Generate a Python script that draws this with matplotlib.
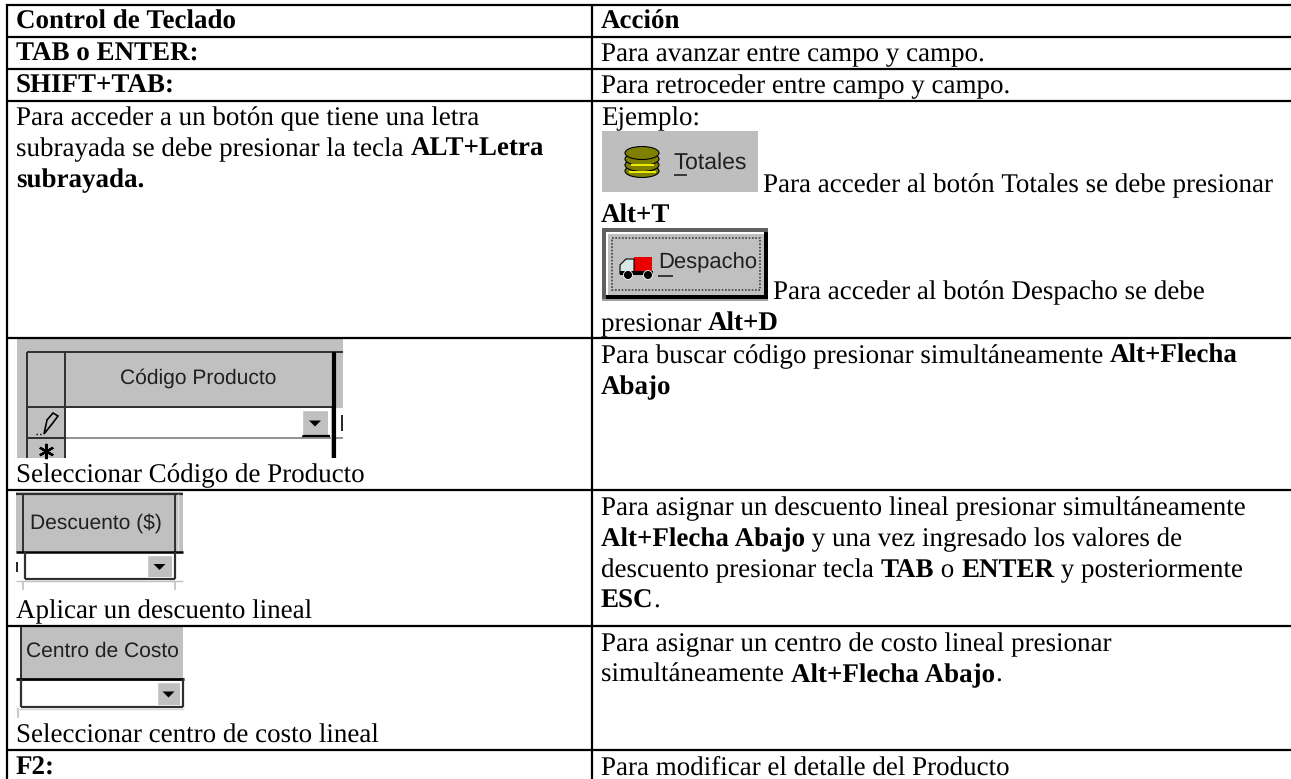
import matplotlib
matplotlib.use("Agg")
import matplotlib.pyplot as plt
from matplotlib.patches import Rectangle, Ellipse, Polygon

# table text, *...* marks the bold runs
header_left = "*Control de Teclado*"
header_right = "*Acción*"
simple_left = ["*TAB o ENTER:*", "*SHIFT+TAB:*"]
simple_right = ["Para avanzar entre campo y campo.", "Para retroceder entre campo y campo."]
letra_left = [
    "Para acceder a un botón que tiene una letra",
    "subrayada se debe presionar la tecla *ALT+Letra*",
    "*subrayada.*",
]
ejemplo = "Ejemplo:"
totales_lines = ["Para acceder al botón Totales se debe presionar", "*Alt+T*"]
despacho_lines = ["Para acceder al botón Despacho se debe", "presionar *Alt+D*"]
codigo_caption = "Seleccionar Código de Producto"
codigo_right = [
    "Para buscar código presionar simultáneamente *Alt+Flecha*",
    "*Abajo*",
]
descuento_caption = "Aplicar un descuento lineal"
descuento_right = [
    "Para asignar un descuento lineal presionar simultáneamente",
    "*Alt+Flecha Abajo* y una vez ingresado los valores de",
    "descuento presionar tecla *TAB* o *ENTER* y posteriormente",
    "*ESC*.",
]
centro_caption = "Seleccionar centro de costo lineal"
centro_right = [
    "Para asignar un centro de costo lineal presionar",
    "simultáneamente *Alt+Flecha Abajo*.",
]
f2_left = "*F2:*"
f2_right = "Para modificar el detalle del Producto"
button_labels = ["Totales", "Despacho", "Código Producto", "Descuento ($)", "Centro de Costo"]

W, H = 1291, 779
GRAY = "#c0c0c0"
DARK = "#303030"
SERIF = "Liberation Serif"
SANS = "Liberation Sans"
SIZE = 19.1
PITCH = 31

# no hinting so the text widths scale with the size
plt.rcParams["text.hinting"] = "no_hinting"
plt.rcParams["text.hinting_factor"] = 1

fig = plt.figure(figsize=(W / 100, H / 100), dpi=100)
ax = fig.add_axes([0, 0, 1, 1])
ax.set_xlim(0, W)
ax.set_ylim(H, 0)
ax.axis("off")
renderer = fig.canvas.get_renderer()


def text_width(s, weight):
    # the bar keeps trailing spaces in the measure
    a = ax.text(0, 0, s + "|", family=SERIF, size=SIZE, weight=weight)
    b = ax.text(0, 0, "|", family=SERIF, size=SIZE, weight=weight)
    w = a.get_window_extent(renderer).width - b.get_window_extent(renderer).width
    a.remove()
    b.remove()
    return w


def draw_line(x, y, s):
    parts = s.split("*")
    for i, part in enumerate(parts):
        if part == "":
            continue
        weight = "bold" if i % 2 == 1 else "normal"
        ax.text(x, y, part, family=SERIF, size=SIZE, weight=weight, color="black",
                va="baseline", ha="left")
        x += text_width(part, weight)


def draw_lines(x, y, lines):
    for i, s in enumerate(lines):
        draw_line(x, y + i * PITCH, s)


def rect(x0, y0, x1, y1, color, z=2):
    ax.add_patch(Rectangle((x0, y0), x1 - x0, y1 - y0, facecolor=color, edgecolor="none", zorder=z))


def seg(x0, y0, x1, y1, color=DARK, lw=1.4, z=3, ls="-"):
    ax.plot([x0, x1], [y0, y1], color=color, lw=lw, zorder=z, ls=ls, solid_capstyle="butt")


def sans(x, y, s, size=15.2, ha="center"):
    ax.text(x, y, s, family=SANS, size=size, color="#202020", ha=ha, va="center", zorder=5)


def combo_button(x0, y0, x1, y1):
    rect(x0, y0, x1, y1, GRAY, 4)
    seg(x0, y0, x1, y0, "white", 1.0, 5)
    seg(x0, y0, x0, y1, "white", 1.0, 5)
    cx = (x0 + x1) / 2
    cy = (y0 + y1) / 2
    ax.add_patch(Polygon([(cx - 6, cy - 2), (cx + 6, cy - 2), (cx, cy + 4)], facecolor="black",
                         edgecolor="none", zorder=6))


# grid
for y in [5, 37, 69, 101, 338, 489.5, 626, 750]:
    seg(6, y, W, y, "black", 1.6, 10)
seg(6.5, 4, 6.5, H, "black", 1.6, 10)
seg(592, 4, 592, H, "black", 1.6, 10)

# left column text
LX, RX = 16, 601
draw_line(LX, 29, header_left)
draw_line(RX, 29, header_right)
draw_line(LX, 61, simple_left[0])
draw_line(RX, 61, simple_right[0])
draw_line(LX, 93, simple_left[1])
draw_line(RX, 93, simple_right[1])
draw_lines(LX, 125, letra_left)

# right column of the buttons row
draw_line(RX, 125, ejemplo)
draw_line(763, 192, totales_lines[0])
draw_line(RX, 223, totales_lines[1])
draw_line(773, 299, despacho_lines[0])
draw_line(RX, 331, despacho_lines[1])

draw_line(LX, 482, codigo_caption)
draw_lines(RX, 363, codigo_right)
draw_line(LX, 618, descuento_caption)
draw_lines(RX, 515, descuento_right)
draw_line(LX, 743, centro_caption)
draw_lines(RX, 651, centro_right)
draw_line(LX, 775, f2_left)
draw_line(RX, 775, f2_right)

# Totales button
rect(602, 131, 758, 192, "#bebebe")
for y in [171, 165, 159, 153]:
    ax.add_patch(Ellipse((642, y), 34, 13, facecolor="#808000", edgecolor="black", lw=0.8, zorder=4))
seg(631, 165, 654, 165, "#f0f000", 1.4, 5)
seg(629, 172, 656, 172, "#f0f000", 1.4, 5)
sans(710, 163, button_labels[0], 16.5)
seg(674, 175, 687, 175, "#202020", 1.2, 5)

# Despacho button
rect(602, 228, 768, 301, "#606060")
rect(606, 232, 768, 299, "black")
rect(606, 232, 764, 295, "white")
rect(608, 234, 764, 295, GRAY)
rect(602, 299, 768, 301, "#a0a0a0")
ax.add_patch(Rectangle((612, 238), 148, 52, facecolor="none", edgecolor="#404040", lw=1.2,
                       ls=(0, (1, 1)), zorder=4))
rect(634, 257, 652, 273, "#e80000", 4)
ax.add_patch(Polygon([(620, 274), (620, 265), (626, 259), (634, 259), (634, 274)], facecolor="#d8e8e8",
                     edgecolor="black", lw=0.8, zorder=4))
rect(620, 271, 653, 275, "black", 5)
for x in [628, 648]:
    ax.add_patch(Ellipse((x, 275), 9, 9, facecolor="black", edgecolor="white", lw=0.6, zorder=6))
sans(708, 263, button_labels[1], 16)
seg(658, 276, 673, 276, "#202020", 1.2, 5)

# Codigo Producto grid capture
rect(17, 338, 343, 458, GRAY)
seg(27, 352, 343, 352, DARK)
seg(27, 352, 27, 458, DARK)
seg(65, 352, 65, 458, DARK)
seg(27, 407, 333, 407, DARK)
rect(66, 408, 331, 458, "white")
rect(336, 408, 343, 458, "white")
seg(66, 438, 331, 438, "#909090")
seg(336, 438, 343, 438, "#909090")
seg(333.5, 352, 333.5, 458, "black", 3)
seg(342, 415, 342, 431, "black", 1.2)
seg(302, 436, 330, 436, "black", 1.6, 5)
seg(27, 438, 65, 438, DARK)
sans(198, 378, button_labels[2])
combo_button(302, 410, 328, 435)
# pencil and star of the row headers
ax.add_patch(Polygon([(44, 434), (47, 420), (53, 413), (58, 416), (52, 424)], facecolor=GRAY,
                     edgecolor="black", lw=1.2, zorder=5))
seg(36, 434, 43, 434, "black", 1.0, 5, ":")
ax.plot([46], [451], marker=(6, 2, 0), ms=11, mew=1.6, color="black", zorder=5)

# Descuento capture
rect(16, 492, 183, 552, GRAY)
seg(16, 494, 183, 494, DARK, 1.6)
seg(23, 494, 23, 552, DARK)
seg(175, 494, 175, 552, DARK)
seg(178, 494, 178, 552, "#e0e0e0", 1.0)
seg(16, 552, 183, 552, "black", 1.8)
seg(25, 552, 25, 579, DARK, 1.6)
seg(175, 552, 175, 579, DARK, 1.6)
seg(25, 579, 175, 579, DARK, 1.6)
seg(16, 581, 183, 581, GRAY, 1.0)
seg(23, 581, 23, 590, GRAY, 1.2)
seg(175, 581, 175, 590, GRAY, 1.2)
seg(17, 562, 17, 572, "black", 1.2)
sans(96, 523, button_labels[3])
combo_button(147, 555, 172, 577)

# Centro de costo capture
rect(21, 627, 183, 678, GRAY)
seg(21, 627, 21, 679, DARK)
seg(16, 679, 184, 679, "black", 2)
seg(21, 679, 21, 707, DARK, 1.6)
seg(183, 679, 183, 707, DARK, 1.6)
seg(21, 707, 183, 707, DARK, 1.6)
seg(18, 708, 18, 718, GRAY, 1.2)
seg(16, 709, 184, 709, "#d8d8d8", 1.0)
sans(102, 651, button_labels[4])
combo_button(157, 682, 180, 705)

fig.savefig("out.png", dpi=100, facecolor="white")
